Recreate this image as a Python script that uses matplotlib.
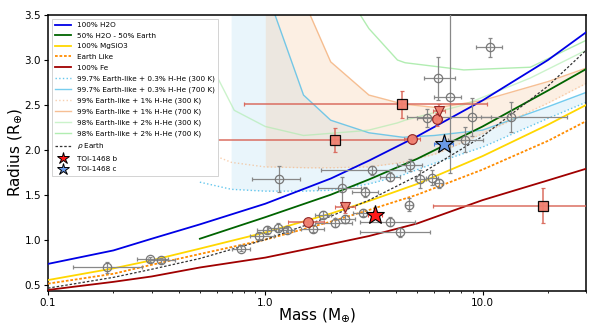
import matplotlib
matplotlib.use("Agg")
import matplotlib.pyplot as plt
from matplotlib.lines import Line2D

# ---- composition tracks (mass in Earth masses, radius in Earth radii) ----
track_mass = [0.1, 0.2, 0.3, 0.5, 1.0, 2.0, 3.0, 5.0, 10.0, 20.0, 30.0]
h2o_radius = [0.73, 0.88, 1.01, 1.17, 1.40, 1.68, 1.88, 2.15, 2.55, 3.00, 3.31]
mgsio3_radius = [0.55, 0.68, 0.77, 0.90, 1.08, 1.29, 1.43, 1.62, 1.93, 2.28, 2.50]
earth_radius = [0.51, 0.62, 0.72, 0.84, 1.00, 1.20, 1.33, 1.50, 1.78, 2.10, 2.32]
fe_radius = [0.44, 0.53, 0.59, 0.69, 0.80, 0.95, 1.04, 1.18, 1.44, 1.66, 1.79]
rho_radius = [0.46, 0.58, 0.67, 0.79, 1.00, 1.26, 1.44, 1.71, 2.15, 2.71, 3.11]

half_h2o_mass = [0.5, 1.0, 2.0, 3.0, 5.0, 10.0, 20.0, 30.0]
half_h2o_radius = [1.01, 1.25, 1.50, 1.67, 1.90, 2.26, 2.66, 2.90]

# 99.7% Earth-like + 0.3% H-He envelopes
env03_mass = [0.5, 0.7, 1.0, 1.11, 1.5, 2.0, 3.0, 4.3, 6.0, 10.0, 20.0, 30.0]
env03_300k = [1.64, 1.56, 1.54, 1.54, 1.54, 1.55, 1.62, 1.72, 1.85, 2.03, 2.35, 2.53]
env03_700k = [None, 6.0, 4.0, 3.5, 2.61, 2.33, 2.19, 2.14, 2.16, 2.22, 2.48, 2.64]

# 99% Earth-like + 1% H-He envelopes
env1_mass = [0.5, 0.7, 1.0, 1.61, 2.0, 3.0, 4.3, 6.2, 10.0, 20.0, 30.0]
env1_300k = [2.00, 1.86, 1.81, 1.80, 1.80, 1.81, 1.86, 1.96, 2.18, 2.52, 2.74]
env1_700k = [None, None, 5.0, 3.5, 2.98, 2.61, 2.51, 2.47, 2.55, 2.76, 2.91]

# 98% Earth-like + 2% H-He envelopes
env2_mass = [0.5, 0.72, 1.0, 1.5, 2.74, 3.0, 4.06, 4.4, 8.2, 16.6, 30.0]
env2_300k = [3.19, 2.44, 2.26, 2.16, 2.21, 2.22, 2.30, 2.33, 2.50, 2.80, 3.11]
env2_700k = [None, None, None, None, 3.5, 3.35, 3.00, 2.97, 2.89, 2.92, 3.22]

# ---- known small planets ----
known_mass = [0.187, 0.296, 0.33, 0.77, 0.94, 1.02, 1.15, 1.26, 1.66, 1.85, 2.1,
              2.34, 2.83, 3.76, 4.18, 4.6, 2.25, 2.89, 3.76, 3.1, 4.65, 5.18,
              5.87, 6.3, 1.16, 10.8, 6.25, 7.07, 8.9, 13.5, 8.3, 5.57]
known_radius = [0.69, 0.78, 0.77, 0.90, 1.04, 1.11, 1.13, 1.11, 1.12, 1.28, 1.19,
                1.23, 1.30, 1.20, 1.08, 1.39, 1.57, 1.53, 1.70, 1.77, 1.83, 1.67,
                1.69, 1.63, 1.68, 3.14, 2.80, 2.59, 2.37, 2.37, 2.11, 2.35]
known_mass_lo = [0.057, 0.04, 0.04, 0.07, 0.09, 0.10, 0.12, 0.10, 0.20, 0.15, 0.40,
                 0.25, 0.30, 1.02, 1.44, 0.20, 0.50, 0.39, 0.40, 1.30, 0.60, 0.30,
                 0.40, 0.30, 0.29, 1.5, 0.85, 1.07, 4.4, 3.7, 1.4, 0.60]
known_mass_hi = [0.083, 0.06, 0.055, 0.08, 0.16, 0.10, 0.12, 0.10, 0.20, 0.15, 0.40,
                 0.25, 0.30, 1.14, 1.58, 0.20, 0.50, 0.41, 0.40, 1.30, 0.60, 0.30,
                 0.40, 0.30, 0.29, 1.5, 1.25, 0.93, 2.0, 11.0, 1.7, 0.60]
known_rad_lo = [0.065, 0.03, 0.03, 0.03, 0.03, 0.04, 0.05, 0.03, 0.04, 0.04, 0.05,
                0.05, 0.04, 0.05, 0.05, 0.07, 0.18, 0.06, 0.05, 0.05, 0.07, 0.10,
                0.08, 0.05, 0.15, 0.11, 0.24, 0.85, 0.22, 0.17, 0.13, 0.10]
known_rad_hi = [0.065, 0.03, 0.03, 0.03, 0.03, 0.04, 0.05, 0.03, 0.04, 0.04, 0.05,
                0.05, 0.04, 0.05, 0.05, 0.07, 0.13, 0.06, 0.05, 0.05, 0.07, 0.10,
                0.08, 0.05, 0.14, 0.10, 0.23, 1.00, 0.21, 0.16, 0.14, 0.10]

# ---- other M-dwarf planets highlighted by marker shape ----
square_mass = [4.28, 2.1, 19.0]
square_radius = [2.51, 2.11, 1.38]
square_mass_lo = [3.48, 1.6, 13.1]
square_mass_hi = [6.2, 2.65, 13.0]
square_rad_err = [0.15, 0.13, 0.20]

circle_mass = [6.2, 4.75, 1.57]
circle_radius = [2.34, 2.12, 1.20]
circle_mass_err = [0.3, 0.4, 0.3]
circle_rad_err = [0.07, 0.05, 0.03]

tri_mass = [6.3, 2.34]
tri_radius = [2.43, 1.36]
tri_mass_err = [0.4, 0.25]
tri_rad_err = [0.08, 0.06]

# ---- TOI-1468 planets ----
toi_b_mass, toi_b_mass_err = 3.21, 0.24
toi_b_radius, toi_b_radius_err = 1.28, 0.04
toi_c_mass, toi_c_mass_err = 6.64, 0.68
toi_c_radius, toi_c_radius_err = 2.06, 0.04


def pairs(mass, radius):
    pts = [(m, r) for m, r in zip(mass, radius) if r is not None]
    return [p[0] for p in pts], [p[1] for p in pts]


fig = plt.figure(figsize=(6.0, 3.29), dpi=100)
ax = fig.add_axes([0.08, 0.116, 0.897, 0.838])

# shaded envelope bands
m, r7 = pairs(env03_mass, env03_700k)
r3 = env03_300k[-len(m):]
ax.fill_between(m, r3, r7, color="#9fd3f0", alpha=0.22, lw=0, zorder=0)
m, r7 = pairs(env1_mass, env1_700k)
r3 = env1_300k[-len(m):]
ax.fill_between(m, r3, r7, color="#f7c69c", alpha=0.28, lw=0, zorder=0)

# envelope curves
c03 = "#3db8e8"
c1 = "#f4b07a"
c2 = "#a9eba9"
ax.plot(env03_mass, env03_300k, color=c03, ls=":", lw=1.0, alpha=0.8,
        label="99.7% Earth-like + 0.3% H-He (300 K)", zorder=1)
ax.plot(*pairs(env03_mass, env03_700k), color=c03, ls="-", lw=1.0, alpha=0.7,
        label="99.7% Earth-like + 0.3% H-He (700 K)", zorder=1)
ax.plot(env1_mass, env1_300k, color=c1, ls=":", lw=1.0, alpha=0.6,
        label="99% Earth-like + 1% H-He (300 K)", zorder=1)
ax.plot(*pairs(env1_mass, env1_700k), color=c1, ls="-", lw=1.0, alpha=0.8,
        label="99% Earth-like + 1% H-He (700 K)", zorder=1)
ax.plot(env2_mass, env2_300k, color=c2, ls="-", lw=1.0, alpha=0.6,
        label="98% Earth-like + 2% H-He (300 K)", zorder=1)
ax.plot(*pairs(env2_mass, env2_700k), color=c2, ls="-", lw=1.0, alpha=0.9,
        label="98% Earth-like + 2% H-He (700 K)", zorder=1)

# bulk composition curves
ax.plot(track_mass, h2o_radius, color="#0000e6", lw=1.3, label="100% H2O", zorder=3)
ax.plot(half_h2o_mass, half_h2o_radius, color="#006400", lw=1.3,
        label="50% H2O - 50% Earth", zorder=3)
ax.plot(track_mass, mgsio3_radius, color="#ffd700", lw=1.3, label="100% MgSiO3", zorder=3)
ax.plot(track_mass, earth_radius, color="#ff8c00", lw=1.3, ls=(0, (1.5, 1)),
        label="Earth Like", zorder=3)
ax.plot(track_mass, fe_radius, color="#a00000", lw=1.3, label="100% Fe", zorder=3)
ax.plot(track_mass, rho_radius, color="#333333", lw=0.9, ls=(0, (2, 1.5)),
        label=r"$\rho$ Earth", zorder=3)

# known planets
ax.errorbar(known_mass, known_radius,
            xerr=[known_mass_lo, known_mass_hi], yerr=[known_rad_lo, known_rad_hi],
            fmt="o", ms=6, mfc="none", mec="#777777", mew=0.9,
            ecolor="#888888", elinewidth=0.9, capsize=1.2, capthick=0.8, zorder=4)

ekw = dict(ecolor="#d9675a", elinewidth=1.1, capsize=1.2, capthick=0.8, alpha=0.95)
ax.errorbar(square_mass, square_radius, xerr=[square_mass_lo, square_mass_hi],
            yerr=square_rad_err, fmt="s", ms=6.5, mfc="#f08070", mec="black",
            mew=0.9, zorder=5, **ekw)
ax.errorbar(circle_mass, circle_radius, xerr=circle_mass_err, yerr=circle_rad_err,
            fmt="o", ms=7, mfc="#f08070", mec="#8b2020", mew=0.8, zorder=5, **ekw)
ax.errorbar(tri_mass, tri_radius, xerr=tri_mass_err, yerr=tri_rad_err,
            fmt="v", ms=7, mfc="#f08070", mec="#8b2020", mew=0.8, zorder=5, **ekw)

ax.errorbar([toi_b_mass], [toi_b_radius], xerr=[toi_b_mass_err], yerr=[toi_b_radius_err],
            fmt="*", ms=14, mfc="#ff1a1a", mec="black", mew=0.8,
            ecolor="#ff4040", elinewidth=1.1, capsize=1.2, zorder=6)
ax.errorbar([toi_c_mass], [toi_c_radius], xerr=[toi_c_mass_err], yerr=[toi_c_radius_err],
            fmt="*", ms=14, mfc="#6a9ae8", mec="black", mew=0.8,
            ecolor="#4a7fe0", elinewidth=1.1, capsize=1.2, zorder=6)

# axes
ax.set_xscale("log")
ax.set_xlim(0.1, 30)
ax.set_ylim(0.43, 3.5)
ax.set_xticks([0.1, 1.0, 10.0])
ax.set_xticklabels(["0.1", "1.0", "10.0"])
ax.set_yticks([0.5, 1.0, 1.5, 2.0, 2.5, 3.0, 3.5])
ax.set_yticklabels(["0.5", "1.0", "1.5", "2.0", "2.5", "3.0", "3.5"])
ax.tick_params(axis="both", labelsize=7.5, length=3, width=0.8, pad=2)
ax.tick_params(axis="x", which="minor", length=1.5, width=0.6)
for s in ax.spines.values():
    s.set_linewidth(1.1)
ax.set_xlabel(r"Mass (M$_{\oplus}$)", fontsize=11, labelpad=-1)
ax.set_ylabel(r"Radius (R$_{\oplus}$)", fontsize=11, labelpad=0)

# legend
order = ["100% H2O", "50% H2O - 50% Earth", "100% MgSiO3", "Earth Like", "100% Fe",
         "99.7% Earth-like + 0.3% H-He (300 K)", "99.7% Earth-like + 0.3% H-He (700 K)",
         "99% Earth-like + 1% H-He (300 K)", "99% Earth-like + 1% H-He (700 K)",
         "98% Earth-like + 2% H-He (300 K)", "98% Earth-like + 2% H-He (700 K)",
         r"$\rho$ Earth"]
handles, labels = ax.get_legend_handles_labels()
lookup = dict(zip(labels, handles))
hs = [lookup[k] for k in order]
ls_ = list(order)
hs.append(Line2D([], [], ls="none", marker="*", ms=9, mfc="#ff1a1a", mec="black", mew=0.7))
ls_.append("TOI-1468 b")
hs.append(Line2D([], [], ls="none", marker="*", ms=9, mfc="#6a9ae8", mec="black", mew=0.7))
ls_.append("TOI-1468 c")
leg = ax.legend(hs, ls_, loc="upper left", fontsize=5.2, labelspacing=0.62,
                handlelength=2.2, borderpad=0.5, framealpha=1.0, fancybox=False,
                edgecolor="#cccccc", bbox_to_anchor=(0.0, 1.0))
leg.get_frame().set_linewidth(0.6)

fig.savefig("out.png", dpi=100)
